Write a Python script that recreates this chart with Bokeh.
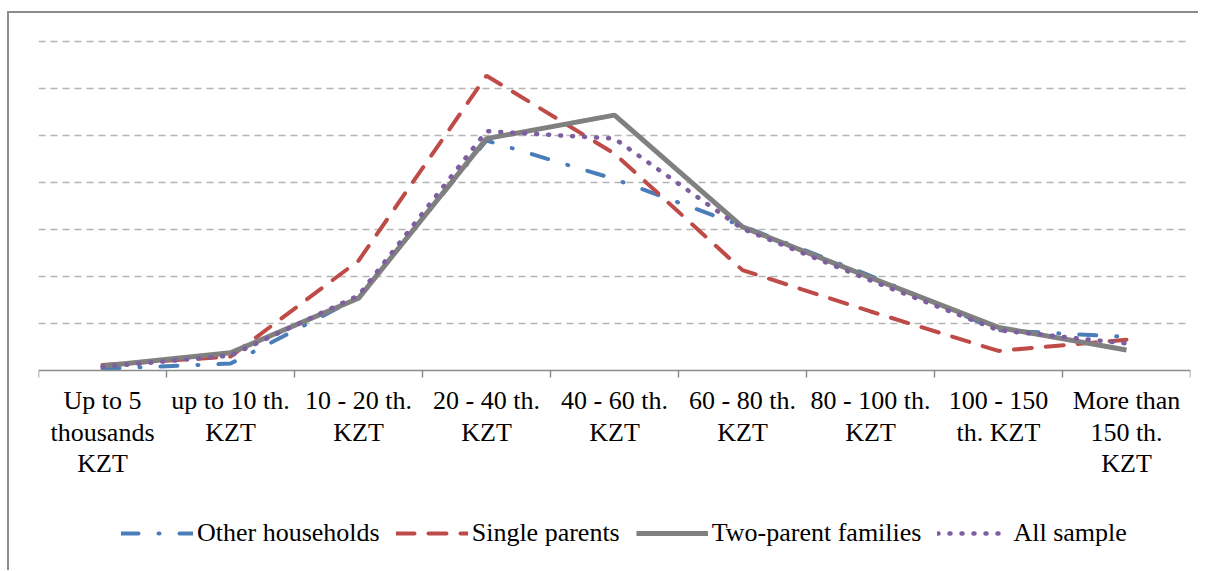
from bokeh.plotting import figure
from bokeh.models import Range1d, FixedTicker, Legend, LegendItem, Grid
from bokeh.embed import file_html
from bokeh.resources import INLINE

categories = ["Up to 5\nthousands\nKZT", "up to 10 th.\nKZT", "10 - 20 th.\nKZT",
              "20 - 40 th.\nKZT", "40 - 60 th.\nKZT", "60 - 80 th.\nKZT",
              "80 - 100 th.\nKZT", "100 - 150\nth. KZT", "More than\n150 th.\nKZT"]
other_households = [0.2, 0.75, 7.8, 24.5, 20.4, 15.4, 10.1, 4.3, 3.6]
single_parents = [0.6, 1.5, 11.7, 31.4, 23.1, 10.7, 6.3, 2.1, 3.3]
two_parent = [0.5, 1.9, 7.7, 24.7, 27.2, 15.3, 9.9, 4.6, 2.2]
all_sample = [0.4, 1.6, 8.0, 25.5, 24.7, 15.1, 9.6, 4.3, 2.9]
grid_values = [5, 10, 15, 20, 25, 30, 35]

n = len(categories)
x = list(range(n))
FONT = "Liberation Serif"

p = figure(frame_width=1152, frame_height=526, output_backend="svg", toolbar_location=None,
           x_range=Range1d(-0.5, n - 0.5), y_range=Range1d(-20, 36),
           y_axis_location=None,
           min_border_left=29, min_border_right=8, min_border_top=19, min_border_bottom=12)
p.outline_line_color = None
p.grid.visible = False
p.styles = {"border-left": "2px solid #8c8c8c", "border-top": "2px solid #8c8c8c",
            "margin-top": "11px", "margin-left": "7px"}

p.add_layout(Grid(dimension=1, ticker=FixedTicker(ticks=grid_values),
                  grid_line_color="#b4b4b4", grid_line_dash="7 5", grid_line_width=1.3))

ax = p.xaxis[0]
ax.fixed_location = 0
ax.ticker = FixedTicker(ticks=x, minor_ticks=[i - 0.5 for i in range(n + 1)])
ax.major_label_overrides = {i: categories[i] for i in x}
ax.axis_line_color = "#8c8c8c"
ax.axis_line_width = 1.5
ax.major_tick_line_color = None
ax.major_tick_out = 0
ax.major_tick_in = 0
ax.minor_tick_line_color = "#8c8c8c"
ax.minor_tick_line_width = 1.5
ax.minor_tick_out = 7
ax.minor_tick_in = 0
ax.major_label_standoff = 8
ax.major_label_text_font = FONT
ax.major_label_text_font_size = "26px"
ax.major_label_text_color = "black"
ax.major_label_text_line_height = 1.1

r_other = p.line(x, other_households, line_color="#4a7ebb", line_width=4,
                 line_dash="17 20 1 20", line_cap="round")
r_single = p.line(x, single_parents, line_color="#be4b48", line_width=4,
                  line_dash="18 14", line_cap="round")
r_two = p.line(x, two_parent, line_color="#808080", line_width=5)
r_all = p.line(x, all_sample, line_color="#7d5fa0", line_width=4.5,
               line_dash="1 11", line_cap="round")

legend = Legend(items=[LegendItem(label="Other households", renderers=[r_other]),
                       LegendItem(label="Single parents", renderers=[r_single]),
                       LegendItem(label="Two-parent families", renderers=[r_two]),
                       LegendItem(label="All sample", renderers=[r_all])],
                orientation="horizontal", location=(83, 10),
                glyph_width=72, label_standoff=4, spacing=16, margin=0, padding=4,
                label_text_font=FONT, label_text_font_size="26px", label_text_color="black",
                border_line_color=None, background_fill_alpha=0)
p.add_layout(legend)

open("out.html", "w").write(file_html(p, INLINE))
